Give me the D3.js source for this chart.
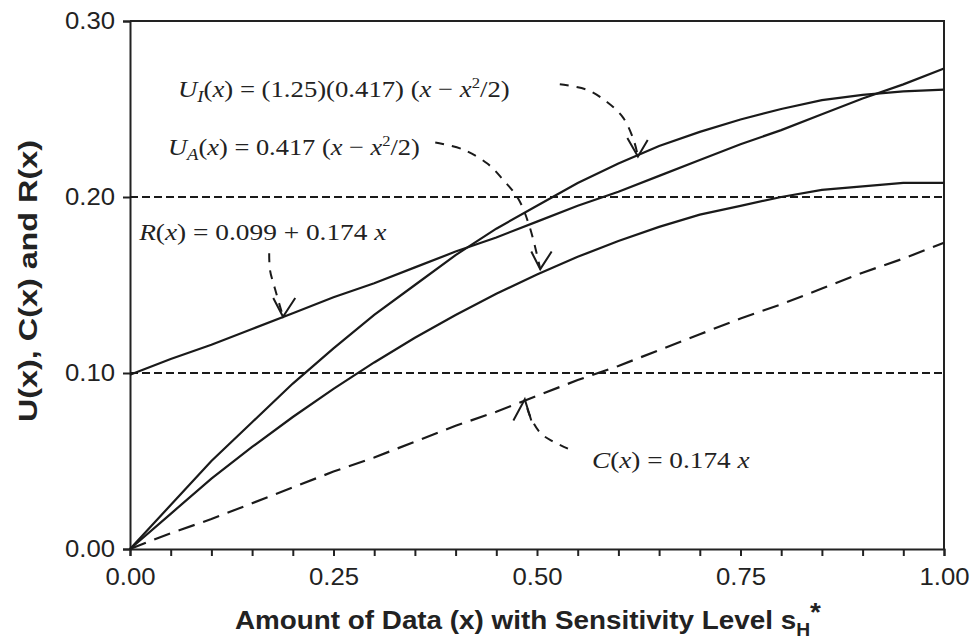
<!DOCTYPE html>
<html lang="en">
<head>
<meta charset="UTF-8">
<title>U(x), C(x) and R(x)</title>
<style>
  body { margin: 0; background: #fff; }
  svg { display: block; }
  .axis text { font-family: "Liberation Sans", Arial, sans-serif; font-size: 23px; fill: #222; }
  .axis line, .axis path { stroke: #222; stroke-width: 2px; }
  .title { font-family: "Liberation Sans", Arial, sans-serif; font-weight: bold; font-size: 26px; fill: #222; }
  .eq { font-family: "Liberation Serif", "Times New Roman", serif; font-size: 24px; fill: #222; }
  .eq .it { font-style: italic; }
  .curve { fill: none; stroke: #1a1a1a; stroke-width: 2.2px; }
  .ref { fill: none; stroke: #1a1a1a; stroke-width: 2px; stroke-dasharray: 8,4; }
  .cost { fill: none; stroke: #1a1a1a; stroke-width: 2.2px; stroke-dasharray: 17,9; }
  .pointer { fill: none; stroke: #1a1a1a; stroke-width: 2px; stroke-dasharray: 9,8; }
  .head { fill: none; stroke: #1a1a1a; stroke-width: 2px; }
</style>
</head>
<body>
<script src="https://cdn.jsdelivr.net/npm/d3@7/dist/d3.min.js"></script>
<script>
// values, x in steps of 0.05
const xs = [0, 0.05, 0.1, 0.15, 0.2, 0.25, 0.3, 0.35, 0.4, 0.45, 0.5, 0.55, 0.6, 0.65, 0.7, 0.75, 0.8, 0.85, 0.9, 0.95, 1.0]
const uI = [0, 0.025, 0.050, 0.072, 0.094, 0.114, 0.133, 0.150, 0.167, 0.182, 0.195, 0.208, 0.219, 0.229, 0.237, 0.244, 0.250, 0.255, 0.258, 0.260, 0.261]
const uA = [0, 0.020, 0.040, 0.058, 0.075, 0.091, 0.106, 0.120, 0.133, 0.145, 0.156, 0.166, 0.175, 0.183, 0.190, 0.195, 0.200, 0.204, 0.206, 0.208, 0.208]
const rX = [0.099, 0.108, 0.116, 0.125, 0.134, 0.143, 0.151, 0.160, 0.169, 0.177, 0.186, 0.195, 0.203, 0.212, 0.221, 0.230, 0.238, 0.247, 0.256, 0.264, 0.273]
const cX = [0, 0.009, 0.017, 0.026, 0.035, 0.044, 0.052, 0.061, 0.070, 0.078, 0.087, 0.096, 0.104, 0.113, 0.122, 0.131, 0.139, 0.148, 0.157, 0.165, 0.174]
const refLevels = [0.10, 0.20]

const yTicks = [0, 0.10, 0.20, 0.30]
const xLabels = [0, 0.25, 0.5, 0.75, 1.0]
const xMinor = d3.range(0, 21).map(i => i * 0.05)

// pointer arrows, in data units
const ptrUI = [[0.528, 0.264], [0.561, 0.261], [0.586, 0.254], [0.606, 0.245], [0.619, 0.232], [0.624, 0.223]]
const headUI = [[0.611, 0.2335], [0.624, 0.223], [0.636, 0.2324]]
const ptrUA = [[0.375, 0.231], [0.409, 0.227], [0.439, 0.219], [0.458, 0.210], [0.477, 0.199], [0.491, 0.183], [0.504, 0.159]]
const headUA = [[0.493, 0.169], [0.504, 0.159], [0.518, 0.169]]
const ptrR = [[0.171, 0.168], [0.172, 0.1585], [0.178, 0.148], [0.188, 0.132]]
const headR = [[0.176, 0.1426], [0.188, 0.132], [0.203, 0.1426]]
const ptrC = [[0.538, 0.057], [0.520, 0.061], [0.504, 0.066], [0.491, 0.076], [0.485, 0.085]]
const headC = [[0.471, 0.073], [0.485, 0.085], [0.493, 0.073]]

const W = 979, H = 644
const margin = {top: 21, right: 35, bottom: 95, left: 130}
const w = W - margin.left - margin.right
const h = H - margin.top - margin.bottom

const svg = d3.select('body').append('svg').attr('width', W).attr('height', H)
const g = svg.append('g').attr('transform', `translate(${margin.left},${margin.top})`)

const x = d3.scaleLinear().domain([0, 1]).range([0, w])
const y = d3.scaleLinear().domain([0, 0.3]).range([h, 0])

// x axis: ticks every 0.05, labels every 0.25
g.append('g')
  .attr('class', 'axis')
  .attr('transform', `translate(0,${h})`)
  .call(d3.axisBottom(x).tickValues(xMinor).tickSize(7).tickPadding(13)
    .tickFormat(d => xLabels.some(v => Math.abs(v - d) < 1e-9) ? d3.format('.2f')(d) : ''))

g.append('g')
  .attr('class', 'axis')
  .call(d3.axisLeft(y).tickValues(yTicks).tickSize(7).tickPadding(8).tickFormat(d3.format('.2f')))

// the printed digits are wider than Liberation Sans
g.selectAll('.axis text').filter(function () { return this.textContent !== '' })
  .attr('textLength', 50).attr('lengthAdjust', 'spacingAndGlyphs')

// frame top and right
g.append('path')
  .attr('fill', 'none').attr('stroke', '#222').attr('stroke-width', 2)
  .attr('d', `M0,0H${w}V${h}`)

refLevels.forEach(v => {
  g.append('line').attr('class', 'ref')
    .attr('x1', x(0)).attr('x2', x(1)).attr('y1', y(v)).attr('y2', y(v))
})

const line = d3.line().x(d => x(d[0])).y(d => y(d[1]))
const pts = arr => xs.map((v, i) => [v, arr[i]])

g.append('path').attr('class', 'curve').attr('d', line(pts(uI)))
g.append('path').attr('class', 'curve').attr('d', line(pts(uA)))
g.append('path').attr('class', 'curve').attr('d', line(pts(rX)))
g.append('path').attr('class', 'cost').attr('d', line(pts(cX)))

const smooth = d3.line().x(d => x(d[0])).y(d => y(d[1])).curve(d3.curveCatmullRom)
;[[ptrUI, headUI], [ptrUA, headUA], [ptrR, headR], [ptrC, headC]].forEach(([p, hd]) => {
  g.append('path').attr('class', 'pointer').attr('d', smooth(p))
  g.append('path').attr('class', 'head').attr('d', line(hd))
})

// stretch a text group horizontally so it covers x0..x1
function fit (grp, x0, x1, py) {
  const b = grp.node().getBBox()
  const sx = (x1 - x0) / b.width
  grp.attr('transform', `translate(${x0 - b.x * sx},${py}) scale(${sx},1)`)
}

// equations
function eq (x0, x1, py, parts) {
  const grp = svg.append('g')
  const t = grp.append('text').attr('class', 'eq').attr('x', 0).attr('y', 0)
  parts.forEach(p => {
    const s = t.append('tspan').text(p.t)
    if (p.it) s.attr('class', 'it')
    if (p.sub) s.attr('font-size', 17).attr('dy', 5)
    if (p.sup) s.attr('font-size', 15).attr('dy', -9)
    if (p.back) s.attr('dy', p.back)
  })
  fit(grp, x0, x1, py)
}
eq(178, 510, 97, [
  {t: 'U', it: true}, {t: 'I', it: true, sub: true}, {t: '(', back: -5}, {t: 'x', it: true},
  {t: ') = (1.25)(0.417) ('}, {t: 'x', it: true}, {t: ' \u2212 '}, {t: 'x', it: true},
  {t: '2', sup: true}, {t: '/2)', back: 9}
])
eq(168, 420, 155, [
  {t: 'U', it: true}, {t: 'A', it: true, sub: true}, {t: '(', back: -5}, {t: 'x', it: true},
  {t: ') = 0.417 ('}, {t: 'x', it: true}, {t: ' \u2212 '}, {t: 'x', it: true},
  {t: '2', sup: true}, {t: '/2)', back: 9}
])
eq(138, 387, 240, [
  {t: 'R', it: true}, {t: '('}, {t: 'x', it: true}, {t: ') = 0.099 + 0.174 '}, {t: 'x', it: true}
])
eq(592, 750, 468, [
  {t: 'C', it: true}, {t: '('}, {t: 'x', it: true}, {t: ') = 0.174 '}, {t: 'x', it: true}
])

// axis titles
const xg = svg.append('g')
const xt = xg.append('text').attr('class', 'title')
xt.append('tspan').text('Amount of Data (x) with Sensitivity Level s')
xt.append('tspan').text('H').attr('font-size', 18).attr('dy', 7)
xt.append('tspan').text('*').attr('dy', -15)
fit(xg, 235, 822, 629)

const yg = svg.append('g')
const yt = yg.append('text').attr('class', 'title').attr('text-anchor', 'start')
  .text('U(x), C(x) and R(x)')
const yb = yt.node().getBBox()
const ys = 282 / yb.width
yg.attr('transform', `translate(37,422) rotate(-90) scale(${ys},1) translate(${-yb.x},0)`)
</script>
</body>
</html>
